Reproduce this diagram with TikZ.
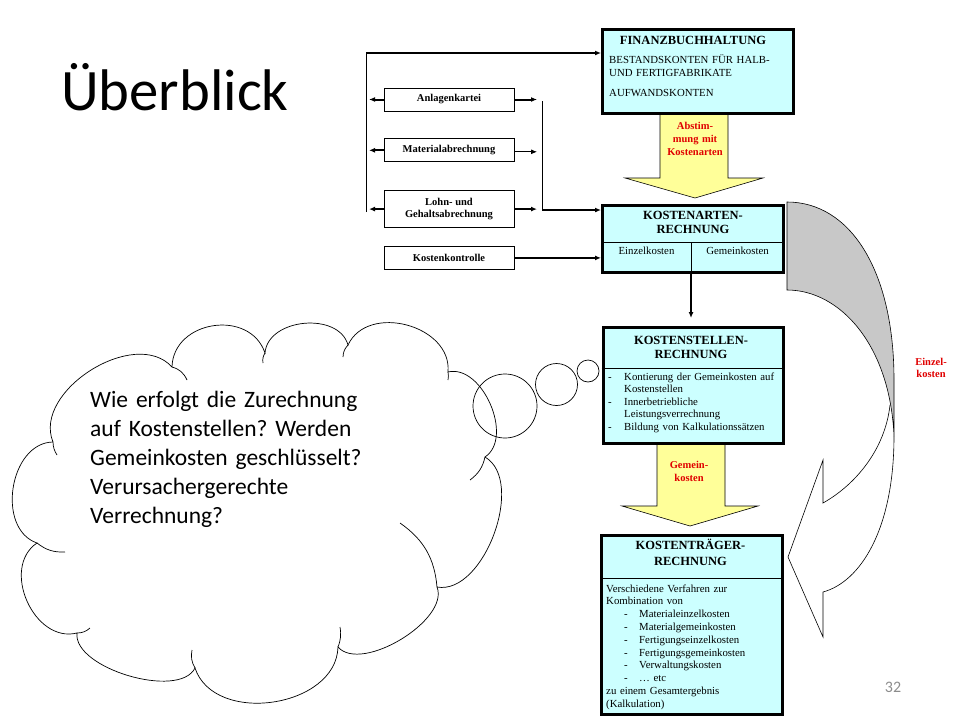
\documentclass[tikz,border=0pt]{standalone}
\usepackage{fontspec}
\setmainfont{Liberation Serif}
\newfontfamily\slidefont{Carlito}
\usetikzlibrary{positioning,arrows.meta}

\definecolor{boxcyan}{HTML}{CCFFFF}
\definecolor{arrowyellow}{HTML}{FFFF99}
\definecolor{labelred}{HTML}{E00000}
\definecolor{backgray}{HTML}{C8C8C8}
\definecolor{pagegray}{HTML}{8C8C8C}

\newcommand\listdash{\makebox[16pt][l]{-}}
\newcommand\listgap{\hspace*{16pt}}
\newcommand\itemdash{\hspace*{18pt}\makebox[15pt][l]{-}}

\tikzset{
  kbox/.style={draw, line width=3pt, fill=boxcyan, inner sep=0pt},
  sbox/.style={draw, line width=0.8pt, minimum width=130pt, minimum height=23pt,
               inner sep=0pt, align=center, font=\bfseries\fontsize{10.5}{12}\selectfont},
  khead/.style={inner sep=0pt, align=center, text width=175pt, font=\bfseries\fontsize{12.5}{14}\selectfont},
  kbody/.style={inner sep=0pt, align=left, text width=178pt, font=\fontsize{10.8}{12.5}\selectfont},
  kcell/.style={inner sep=0pt, font=\fontsize{10.8}{12}\selectfont},
  flow/.style={line width=2pt, -{Latex[length=6pt,width=5pt]}},
  thinflow/.style={line width=0.8pt, -{Latex[length=6pt,width=5pt]}},
  bus/.style={line width=1pt},
  ylw/.style={draw, line width=0.6pt, fill=arrowyellow},
  redlab/.style={inner sep=0pt, align=center, text width=80pt, text=labelred, font=\bfseries\fontsize{10.5}{13}\selectfont},
  cloudline/.style={line width=0.7pt},
  bubble/.style={draw, circle, line width=0.7pt, inner sep=0pt}
}

\begin{document}
\begin{tikzpicture}[x=1pt, y=-1pt]
  \useasboundingbox (0,0) rectangle (960,720);

  % Title and slide number
  \node[anchor=base west, inner sep=0pt, font=\slidefont\fontsize{58.7}{60}\selectfont] (title) at (61,110) {Überblick};
  \node[inner sep=0pt, text=pagegray, font=\slidefont\fontsize{16}{16}\selectfont] (pageno) at (893,687) {32};

  % Yellow block arrows (behind the boxes)
  \draw[ylw] (660,110) -- (660,178) -- (625,178) -- (695,198) -- (763,178) -- (728,178) -- (728,110);
  \draw[ylw] (657,440) -- (657,506) -- (622,506) -- (690,526) -- (758,506) -- (725,506) -- (725,440);

  % Main boxes
  \node[kbox, minimum width=191pt, minimum height=84pt] (fibu) at (698,71.5) {};
  \node[kbox, minimum width=181pt, minimum height=67pt, below=89pt of fibu, xshift=-5pt] (karten) {};
  \node[kbox, minimum width=180pt, minimum height=116pt, below=52pt of karten] (kstellen) {};
  \node[kbox, minimum width=181pt, minimum height=179pt, below=89pt of kstellen, xshift=-1pt] (ktraeger) {};

  % Box texts
  \node[khead, anchor=base] (fibuhead) at (693,44.3) {FINANZBUCHHALTUNG};
  \node[kbody, anchor=base west] (fibubody) at (609,63.3) {BESTANDSKONTEN FÜR HALB-\\[0.9pt]UND FERTIGFABRIKATE};
  \node[kbody, anchor=base west] (fibuacc) at (609,96.7) {AUFWANDSKONTEN};

  \node[khead, anchor=base] (kartenhead) at (693,219.3) {KOSTENARTEN-\\RECHNUNG};
  \draw[line width=0.6pt] (karten.west |- 0,242) -- (karten.east |- 0,242);
  \draw[line width=0.6pt] (691,242) -- ([xshift=-2pt]karten.south);
  \node[kcell, anchor=base] (einzel) at (646.5,254.5) {Einzelkosten};
  \node[kcell, anchor=base] (gemein) at (737.5,254.5) {Gemeinkosten};

  \node[khead, anchor=base] (kstellenhead) at (691,344) {KOSTENSTELLEN-\\RECHNUNG};
  \draw[line width=0.6pt] (kstellen.west |- 0,368) -- (kstellen.east |- 0,368);
  \node[kbody, anchor=base west] (kstellenbody) at (608,380) {\listdash Kontierung der Gemeinkosten auf\\
    \listgap Kostenstellen\\
    \listdash Innerbetriebliche\\
    \listgap Leistungsverrechnung\\
    \listdash Bildung von Kalkulationssätzen};

  \node[khead, anchor=base] (ktraegerhead) at (690.5,549.5) {KOSTENTRÄGER-\\[1.5pt]RECHNUNG};
  \draw[line width=0.6pt] (ktraeger.west |- 0,578) -- (ktraeger.east |- 0,578);
  \node[kbody, anchor=base west, font=\fontsize{10.8}{12.8}\selectfont] (ktraegerbody) at (606,592) {Verschiedene Verfahren zur\\
    Kombination von\\
    \itemdash Materialeinzelkosten\\
    \itemdash Materialgemeinkosten\\
    \itemdash Fertigungseinzelkosten\\
    \itemdash Fertigungsgemeinkosten\\
    \itemdash Verwaltungskosten\\
    \itemdash \dots\ etc\\
    zu einem Gesamtergebnis\\
    (Kalkulation)};

  % Arrow labels
  \node[redlab, anchor=base] (abstim) at (695,129) {Abstim-\\mung mit\\Kostenarten};
  \node[redlab, anchor=base, font=\bfseries\fontsize{10.5}{13.7}\selectfont] (gemeinlab) at (689,468) {Gemein-\\kosten};
  \node[redlab, anchor=base, font=\bfseries\fontsize{10.5}{12}\selectfont] (einzellab) at (931,365) {Einzel-\\kosten};

  % Side boxes
  \node[sbox] (kartei) at (449,99.5) {Anlagenkartei};
  \node[sbox, below=27pt of kartei] (material) {Materialabrechnung};
  \node[sbox, below=28pt of material, minimum height=37pt] (lohn) {Lohn- und\\Gehaltsabrechnung};
  \node[sbox, below=18pt of lohn] (kontrolle) {Kostenkontrolle};

  % Connect the nodes
  \coordinate (lbustop) at (366,53);
  \coordinate (lbusend) at (366,212);
  \coordinate (rbustop) at (542,101);
  \coordinate (rbusend) at (542,210);
  \draw[bus] (lbusend) -- (lbustop);
  \draw[flow] (lbustop) -- (lbustop -| fibu.west);
  \draw[flow, shorten >=3pt] (kartei.west) -- (kartei.west -| lbustop);
  \draw[flow, shorten >=3pt] (material.west) -- (material.west -| lbustop);
  \draw[flow, shorten >=3pt] (lohn.west) -- (lohn.west -| lbustop);
  \draw[flow, shorten >=5pt] (kartei.east) -- (kartei.east -| rbustop);
  \draw[thinflow, shorten >=5pt] ([yshift=-1.5pt]material.east) -- ([yshift=-1.5pt]material.east -| rbustop);
  \draw[flow, shorten >=5pt] (lohn.east) -- (lohn.east -| rbustop);
  \draw[bus] (rbustop) -- (rbusend);
  \draw[flow] (rbusend) -- (rbusend -| karten.west);
  \draw[flow] (kontrolle.east) -- (kontrolle.east -| karten.west);
  \draw[flow, shorten >=8pt] ([xshift=-2pt]karten.south) -- ([xshift=-2pt]kstellen.north);

  % Curved arrow (Einzelkosten)
  \draw[line width=0.6pt] (894,436) .. controls (894,530) and (860,582) .. (823,592) -- (823,637) -- (788,557)
    -- (823,460) -- (823,503) .. controls (855,485) and (885,450) .. (890,405);
  \draw[line width=0.6pt, fill=backgray] (787,202) .. controls (850,202) and (894,270) .. (894,380) -- (894,436)
    .. controls (890,345) and (840,290) .. (787,290) -- cycle;

  % Thought cloud
  \draw[cloudline] (53,442) to[bend left=80, looseness=1.0] (172,367)
    to[bend left=80, looseness=1.28] (265,353)
    to[bend left=80, looseness=1.07] (348,345)
    to[bend left=80, looseness=1.16] (448,372)
    to[bend left=80, looseness=0.97] (485,457)
    to[bend left=80, looseness=0.88] (437,587)
    to[bend left=80, looseness=0.78] (338,647)
    to[bend left=80, looseness=1.08] (195,668)
    to[bend left=80, looseness=0.74] (77,633)
    to[bend left=80, looseness=1.15] (37,543)
    to[bend left=80, looseness=1.09] (53,442);
  \draw[cloudline] (172,367) to[bend left=25] (187,380)
    (263,363) to[bend left=20] (265,353)
    (343,357) to[bend left=20] (348,345)
    (448,372) to[bend left=10] (448,380)
    (485,457) to[bend left=20] (470,480)
    (400,523) to[bend left=25] (437,587)
    (340,627) to[bend left=15] (338,647)
    (195,668) to[bend left=20] (192,650)
    (90,628) to[bend left=20] (77,633)
    (65,552) to[bend left=20] (37,543)
    (57,455) to[bend left=15] (53,442);
  \node[bubble, minimum size=64pt] (bubblea) at (505,406) {};
  \node[bubble, minimum size=42pt] (bubbleb) at (556.5,384.5) {};
  \node[bubble, minimum size=22pt] (bubblec) at (588,371) {};
  \node[anchor=base west, inner sep=0pt, text width=300pt, align=left,
        font=\slidefont\fontsize{23.5}{29}\selectfont\frenchspacing] (question) at (90,407)
    {Wie erfolgt die Zurechnung\\auf Kostenstellen? Werden\\Gemeinkosten geschlüsselt?\\Verursachergerechte\\Verrechnung?};
\end{tikzpicture}
\end{document}
